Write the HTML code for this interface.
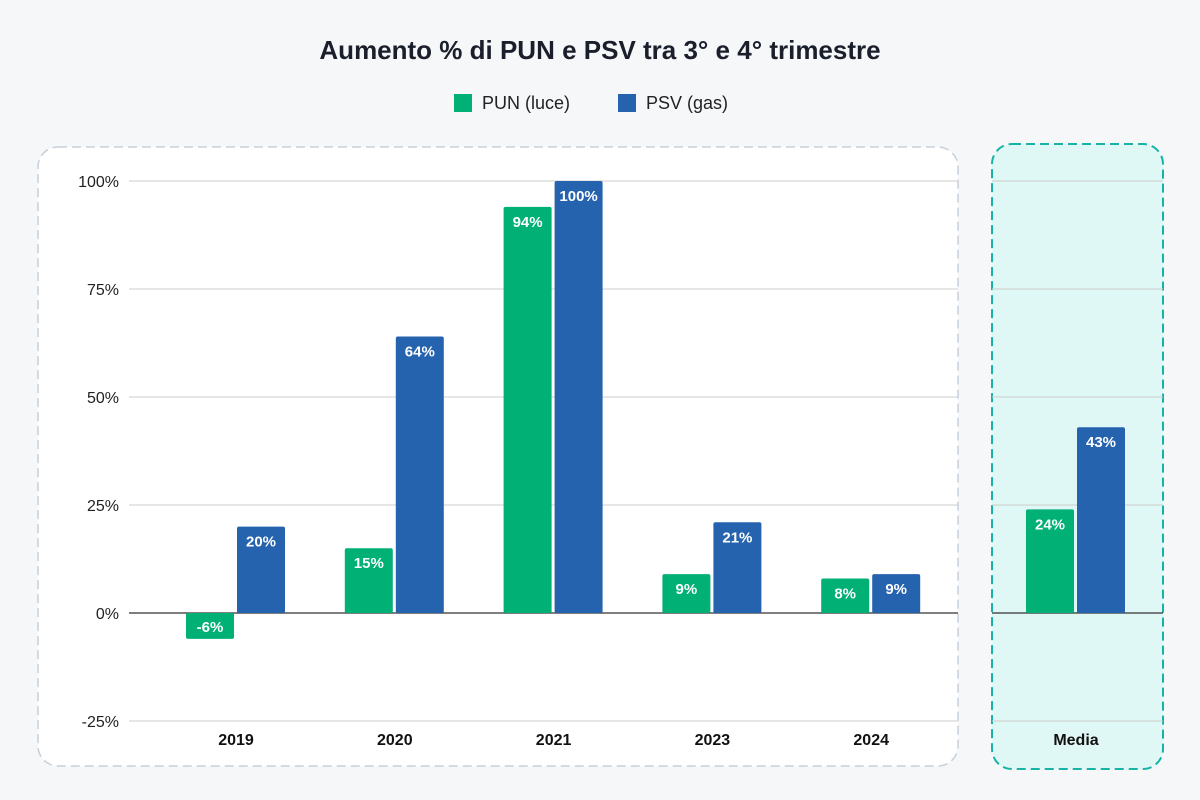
<!DOCTYPE html>
<html><head><meta charset="utf-8"><style>
body{margin:0;background:#f5f7f9;font-family:"Liberation Sans",sans-serif}
</style></head><body>
<svg width="1200" height="800" xmlns="http://www.w3.org/2000/svg" style="display:block">
<rect width="1200" height="800" fill="#f5f7f9"/>
<text x="600" y="59" text-anchor="middle" font-size="26" font-weight="bold" fill="#1a1f2b">Aumento % di PUN e PSV tra 3° e 4° trimestre</text>
<g>
<rect x="454" y="94" width="18" height="18" fill="#00b074"/>
<text x="482" y="109" font-size="18" fill="#222">PUN (luce)</text>
<rect x="618" y="94" width="18" height="18" fill="#2563ae"/>
<text x="646" y="109" font-size="18" fill="#222">PSV (gas)</text>
</g>
<rect x="38" y="147" width="920" height="619" rx="20" fill="#fff" stroke="#c5d0dc" stroke-width="1.5" stroke-dasharray="9,5"/>
<rect x="992" y="144" width="171" height="625" rx="20" fill="#e0f8f5" stroke="#16b3a6" stroke-width="2" stroke-dasharray="9,5"/>
<g id="plot"></g>
</svg>
<script>
const categories=["2019","2020","2021","2023","2024","Media"];
const punValues=[-6,15,94,9,8,24];
const psvValues=[20,64,100,21,9,43];
const yTicks=[-25,0,25,50,75,100];
const tickLabels=["-25%","0%","25%","50%","75%","100%"];
const NS="http://www.w3.org/2000/svg";
const g=document.getElementById('plot');
function y(v){return 613-v*4.32;}
function xc(i){return i<5?236+i*158.8:1076;}
function mk(tag,attrs,txt){const e=document.createElementNS(NS,tag);for(const k in attrs)e.setAttribute(k,attrs[k]);if(txt!==undefined)e.textContent=txt;g.appendChild(e);return e;}
yTicks.forEach((t,i)=>{
  const zero=t===0;
  let l=mk('line',{x1:129,x2:958,y1:y(t),y2:y(t),stroke:zero?'#333':'#ccc','stroke-width':zero?1.2:1});
  
  
  let l2=mk('line',{x1:992,x2:1163,y1:y(t),y2:y(t),stroke:zero?'#333':'#ccc','stroke-width':zero?1.2:1});
  
  
  let tx=mk('text',{x:119,y:y(t)+6,'text-anchor':'end','font-size':16,fill:'#222'},tickLabels[i]);
  
  
});
categories.forEach((c,i)=>{
  const cx=xc(i);
  [[punValues[i],'#00b074',cx-50,'pun'],[psvValues[i],'#2563ae',cx+1,'psv']].forEach(([v,col,x,s])=>{
    const top=Math.min(y(v),y(0)),h=Math.abs(y(v)-y(0));
    let r=mk('rect',{x:x,y:top,width:48,height:h,fill:col,rx:2});
    
    
    let lt=mk('text',{x:x+24,y:v>=0?top+20:top+h-7,'text-anchor':'middle','font-size':15,'font-weight':'bold',fill:'#fff'},v+'%');
    
    
  });
  let xl=mk('text',{x:cx,y:745,'text-anchor':'middle','font-size':16,'font-weight':'bold',fill:'#111'},c);
  
  
});
</script>
</body></html>
